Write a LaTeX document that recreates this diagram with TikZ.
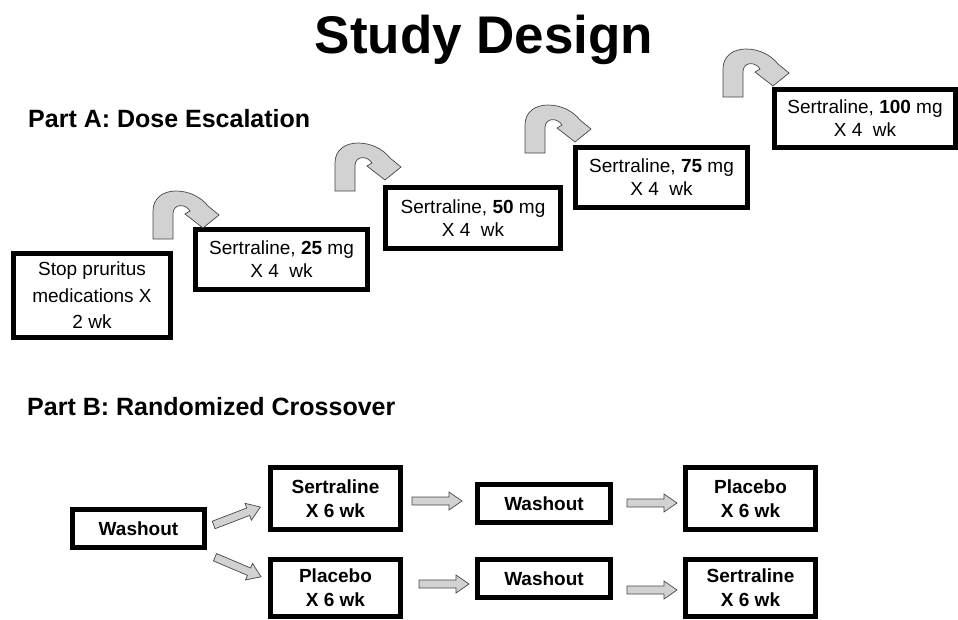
\documentclass[tikz,border=0pt]{standalone}
\usepackage{fontspec}
\setmainfont{Liberation Sans}
\begin{document}
\begin{tikzpicture}[x=1pt,y=-1pt,
  box/.style={draw, line width=5pt, rectangle, align=center, inner sep=0pt},
  txt/.style={font=\fontsize{19}{23}\selectfont},
  stoptxt/.style={font=\fontsize{19}{26.5}\selectfont},
  btxt/.style={font=\bfseries\fontsize{19}{24}\selectfont},
  lbl/.style={font=\bfseries\fontsize{25}{30}\selectfont, anchor=base west, inner sep=0pt},
  arrowfill/.style={draw=gray!55!black, line width=0.7pt, fill=gray!35},
  bentarrow/.pic={\path[arrowfill] (0,0) -- (0,-28) .. controls (0,-41) and (10,-48) .. (23,-48)
      .. controls (36,-48) and (48,-42) .. (55,-33) -- (66,-24) -- (50,-11) -- (32,-25) -- (37,-28)
      .. controls (33,-35) and (21,-36) .. (20,-26) -- (20,0) -- cycle;},
  blockarrow/.pic={\path[arrowfill] (-25,-4) -- (12,-4) -- (12,-9) -- (25,0) -- (12,9) -- (12,4) -- (-25,4) -- cycle;}
]
\useasboundingbox (0,0) rectangle (958,619);

% title and labels
\node[font=\bfseries\fontsize{53}{60}\selectfont, anchor=base, inner sep=0pt] (title) at (484,53) {Study Design};
\node[lbl] (partA) at (28,127) {Part A: Dose Escalation};
\node[lbl] (partB) at (27,415) {Part B: Randomized Crossover};

% Part A boxes
\node[box, stoptxt, minimum width=157pt, minimum height=84pt] (b0) at (92,295.5) {Stop pruritus\\medications X\\2 wk};
\node[box, txt, minimum width=172pt, minimum height=60pt] (b1) at (281.5,259.5) {Sertraline, \textbf{25} mg\\X 4\hspace{0.55em}wk};
\node[box, txt, minimum width=175pt, minimum height=61pt] (b2) at (473,218) {Sertraline, \textbf{50} mg\\X 4\hspace{0.55em}wk};
\node[box, txt, minimum width=172pt, minimum height=60pt] (b3) at (661.5,177.5) {Sertraline, \textbf{75} mg\\X 4\hspace{0.55em}wk};
\node[box, txt, minimum width=181pt, minimum height=58pt] (b4) at (865,118.5) {Sertraline, \textbf{100} mg\\X 4\hspace{0.55em}wk};

% bent arrows
\pic at (153,239) {bentarrow};
\pic at (335,191) {bentarrow};
\pic at (525,153) {bentarrow};
\pic at (723,97) {bentarrow};

% Part B boxes
\node[box, btxt, minimum width=132pt, minimum height=38pt] (w0) at (138.5,528.5) {Washout};
\node[box, btxt, minimum width=130pt, minimum height=62pt] (s1) at (335.5,498.5) {Sertraline\\X 6 wk};
\node[box, btxt, minimum width=130pt, minimum height=57pt] (p1) at (335.5,588) {Placebo\\X 6 wk};
\node[box, btxt, minimum width=133pt, minimum height=38pt] (wa1) at (544,503.5) {Washout};
\node[box, btxt, minimum width=133pt, minimum height=38pt] (wa2) at (544,578.5) {Washout};
\node[box, btxt, minimum width=130pt, minimum height=62pt] (p2) at (750.5,498.5) {Placebo\\X 6 wk};
\node[box, btxt, minimum width=130pt, minimum height=57pt] (s2) at (750.5,588) {Sertraline\\X 6 wk};

% block arrows
\pic[rotate=21] at (237,516) {blockarrow};
\pic[rotate=-23] at (238,567) {blockarrow};
\pic at (437,501) {blockarrow};
\pic at (444,584) {blockarrow};
\pic at (652,503) {blockarrow};
\pic at (652,590) {blockarrow};
\end{tikzpicture}
\end{document}
